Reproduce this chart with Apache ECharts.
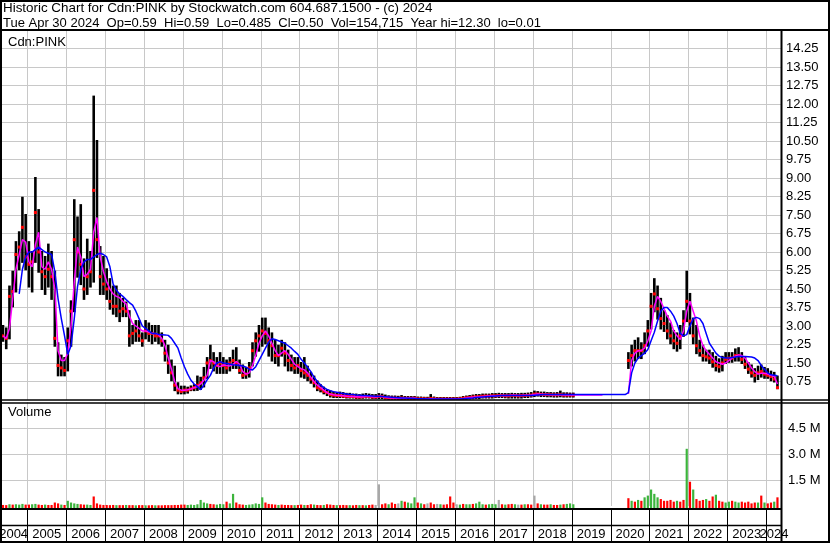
<!DOCTYPE html>
<html>
<head>
<meta charset="utf-8">
<script src="https://cdn.jsdelivr.net/npm/echarts@6/dist/echarts.min.js"></script>
<style>
html,body{margin:0;padding:0;background:#fff;}
#chart{width:830px;height:543px;}
</style>
</head>
<body>
<div id="chart"></div>
<script>
// Month index counted from Jan 2004 (0). First bar = May 2004 (index 4), one value per month.
const START_MONTH = 4;

const high = [
  3.0, 2.9, 4.6, 5.2, 6.4, 6.8, 8.2, 7.5,                          // 2004 May-Dec
  6.4, 6.0, 9.0, 7.7, 6.0, 5.8, 6.3, 6.0, 5.2, 2.3, 1.8, 1.7,       // 2005
  2.9, 4.0, 8.1, 7.4, 7.9, 5.7, 6.5, 6.0, 12.3, 10.5, 6.2, 5.8,     // 2006
  5.3, 4.9, 4.6, 4.6, 4.3, 4.1, 3.95, 3.6, 3.0, 3.2, 3.2, 2.7,      // 2007
  3.2, 3.1, 3.0, 3.0, 3.0, 2.7, 2.4, 2.2, 1.6, 1.35, 0.68, 0.54,    // 2008
  0.54, 0.5, 0.55, 0.6, 0.95, 0.9, 1.3, 1.7, 2.2, 1.9, 1.7, 1.9,    // 2009
  1.7, 1.6, 1.7, 2.0, 2.1, 1.6, 1.4, 1.3, 1.5, 2.3, 2.7, 3.0,       // 2010
  3.3, 3.3, 2.9, 2.7, 2.4, 2.2, 2.4, 2.3, 2.0, 1.8, 1.7, 1.7,       // 2011
  1.5, 1.7, 1.35, 1.1, 0.95, 0.75, 0.6, 0.5, 0.4, 0.35, 0.3, 0.28,  // 2012
  0.3, 0.28, 0.25, 0.25, 0.22, 0.22, 0.2, 0.22, 0.24, 0.22, 0.2, 0.2, // 2013
  0.24, 0.22, 0.18, 0.15, 0.14, 0.14, 0.13, 0.16, 0.12, 0.12, 0.12, 0.12, // 2014
  0.1, 0.1, 0.09, 0.09, 0.2, 0.1, 0.08, 0.08, 0.08, 0.08, 0.08, 0.08, // 2015
  0.08, 0.09, 0.12, 0.14, 0.16, 0.18, 0.2, 0.2, 0.22, 0.22, 0.22, 0.24, // 2016
  0.24, 0.25, 0.24, 0.24, 0.24, 0.25, 0.24, 0.24, 0.25, 0.25, 0.26, 0.28, // 2017
  0.34, 0.32, 0.3, 0.3, 0.28, 0.28, 0.27, 0.28, 0.34, 0.27, 0.27, 0.26, // 2018
  0.26, null, null, null, null, null, null, null, null, null, null, null, // 2019
  null, null, null, null, null, 1.9, 2.2, 2.4, 2.5, 2.3, 2.7, 3.2,  // 2020
  4.3, 4.9, 4.6, 4.1, 3.6, 3.4, 3.1, 2.8, 2.7, 3.0, 3.6, 5.2,       // 2021
  4.3, 3.3, 3.0, 2.4, 2.2, 2.0, 2.0, 1.9, 1.75, 1.65, 1.75, 1.9,    // 2022
  1.9, 1.9, 2.05, 2.1, 1.9, 1.7, 1.5, 1.4, 1.25, 1.35, 1.4, 1.3,    // 2023
  1.25, 1.15, 1.1, 0.95                                              // 2024 Jan-Apr
];

const low = [
  2.4, 2.1, 2.5, 3.8, 4.4, 5.3, 5.6, 5.3,
  4.6, 4.4, 5.6, 5.2, 4.5, 4.3, 4.6, 4.1, 2.2, 1.0, 1.0, 1.0,
  1.2, 2.2, 3.6, 5.0, 4.7, 4.1, 4.3, 4.6, 4.8, 5.8, 4.3, 4.3,
  4.1, 3.7, 3.5, 3.4, 3.2, 3.4, 3.4, 2.2, 2.3, 2.4, 2.4, 2.2,
  2.5, 2.4, 2.3, 2.4, 2.3, 2.2, 1.6, 1.1, 0.8, 0.4, 0.27, 0.27,
  0.27, 0.3, 0.4, 0.4, 0.41, 0.45, 0.55, 0.9, 1.3, 1.2, 1.1, 1.1,
  1.1, 1.1, 1.2, 1.3, 1.3, 1.1, 0.9, 0.9, 0.95, 1.4, 1.8, 2.0,
  2.2, 2.3, 1.8, 1.6, 1.5, 1.4, 1.8, 1.4, 1.2, 1.2, 1.1, 1.1,
  0.95, 0.9, 0.8, 0.7, 0.55, 0.4, 0.35, 0.27, 0.2, 0.14, 0.12, 0.12,
  0.12, 0.12, 0.1, 0.1, 0.1, 0.08, 0.08, 0.09, 0.1, 0.1, 0.08, 0.08,
  0.08, 0.08, 0.06, 0.05, 0.05, 0.05, 0.04, 0.04, 0.04, 0.04, 0.04, 0.04,
  0.03, 0.03, 0.02, 0.02, 0.03, 0.02, 0.02, 0.02, 0.02, 0.02, 0.02, 0.02,
  0.02, 0.03, 0.04, 0.05, 0.06, 0.07, 0.08, 0.08, 0.1, 0.1, 0.1, 0.1,
  0.12, 0.12, 0.12, 0.11, 0.1, 0.1, 0.1, 0.1, 0.1, 0.12, 0.12, 0.14,
  0.16, 0.18, 0.16, 0.16, 0.15, 0.15, 0.14, 0.14, 0.15, 0.14, 0.14, 0.14,
  0.14, null, null, null, null, null, null, null, null, null, null, null,
  null, null, null, null, null, 1.3, 1.4, 1.6, 1.7, 1.7, 1.9, 2.2,
  2.9, 3.6, 3.3, 2.9, 2.8, 2.5, 2.3, 2.1, 2.0, 2.1, 2.6, 3.2,
  2.7, 2.3, 1.9, 1.8, 1.6, 1.6, 1.5, 1.35, 1.2, 1.15, 1.2, 1.5,
  1.55, 1.55, 1.6, 1.6, 1.5, 1.3, 1.1, 0.95, 0.75, 0.85, 0.95, 0.9,
  0.9, 0.8, 0.75, 0.48
];

const close = [
  2.6, 2.5, 4.2, 4.4, 5.9, 6.2, 7.0, 5.8,
  5.5, 5.6, 7.6, 6.0, 5.2, 5.0, 5.3, 5.0, 2.5, 1.4, 1.3, 1.2,
  2.4, 3.6, 6.5, 6.0, 5.5, 4.5, 5.0, 5.2, 8.5, 6.5, 5.0, 4.7,
  4.5, 4.0, 3.8, 3.8, 3.6, 3.7, 3.6, 2.6, 2.7, 2.8, 2.6, 2.4,
  2.8, 2.7, 2.7, 2.6, 2.6, 2.4, 1.9, 1.5, 1.1, 0.6, 0.4, 0.35,
  0.4, 0.4, 0.45, 0.5, 0.6, 0.7, 0.9, 1.5, 1.6, 1.5, 1.4, 1.5,
  1.4, 1.3, 1.5, 1.6, 1.5, 1.2, 1.0, 1.05, 1.3, 2.0, 2.4, 2.6,
  2.8, 2.7, 2.4, 2.2, 1.8, 1.8, 2.1, 1.9, 1.6, 1.4, 1.3, 1.4,
  1.2, 1.1, 1.0, 0.85, 0.7, 0.5, 0.45, 0.35, 0.3, 0.22, 0.2, 0.18,
  0.18, 0.16, 0.15, 0.14, 0.14, 0.12, 0.12, 0.13, 0.15, 0.14, 0.12, 0.12,
  0.15, 0.14, 0.1, 0.09, 0.08, 0.08, 0.07, 0.08, 0.07, 0.07, 0.07, 0.07,
  0.05, 0.05, 0.05, 0.04, 0.06, 0.05, 0.04, 0.04, 0.04, 0.04, 0.04, 0.04,
  0.04, 0.05, 0.07, 0.09, 0.1, 0.12, 0.13, 0.14, 0.15, 0.16, 0.16, 0.17,
  0.17, 0.18, 0.18, 0.17, 0.17, 0.18, 0.18, 0.17, 0.18, 0.18, 0.19, 0.2,
  0.24, 0.24, 0.23, 0.22, 0.22, 0.22, 0.21, 0.21, 0.22, 0.2, 0.2, 0.2,
  0.2, null, null, null, null, null, null, null, null, null, null, null,
  null, null, null, null, null, 1.6, 1.8, 2.0, 2.0, 2.0, 2.2, 2.8,
  3.8, 4.3, 3.7, 3.3, 3.1, 2.8, 2.6, 2.4, 2.3, 2.6, 3.2, 4.0,
  3.2, 2.6, 2.2, 2.0, 1.8, 1.75, 1.7, 1.55, 1.4, 1.35, 1.5, 1.65,
  1.7, 1.7, 1.8, 1.8, 1.65, 1.45, 1.25, 1.1, 1.0, 1.1, 1.15, 1.05,
  1.0, 0.95, 0.85, 0.5
];

// short moving average (magenta)
const maFast = [
  2.6, 2.5, 2.9, 4.1, 5.3, 5.9, 6.5, 6.4,
  5.6, 5.4, 6.3, 6.8, 5.4, 5.3, 5.6, 5.3, 4.5, 2.0, 1.6, 1.6,
  1.9, 3.0, 4.8, 6.2, 5.8, 5.0, 5.1, 5.3, 6.8, 7.4, 5.8, 5.2,
  4.8, 4.5, 4.3, 4.2, 4.15, 4.0, 3.9, 3.4, 3.1, 3.0, 2.9, 2.8,
  2.8, 2.75, 2.7, 2.7, 2.65, 2.5, 2.2, 1.7, 1.25, 0.75, 0.45, 0.4,
  0.4, 0.42, 0.45, 0.5, 0.55, 0.65, 0.8, 1.0, 1.6, 1.55, 1.4, 1.35,
  1.42, 1.4, 1.38, 1.45, 1.56, 1.45, 1.15, 1.05, 1.1, 1.4, 1.8, 2.3,
  2.6, 2.8, 2.6, 2.3, 2.0, 1.8, 1.9, 2.0, 1.85, 1.65, 1.45, 1.35,
  1.27, 1.22, 1.1, 0.92, 0.75, 0.6, 0.5, 0.4, 0.3, 0.24, 0.21, 0.19,
  0.18, 0.17, 0.15, 0.14, 0.14, 0.13, 0.12, 0.13, 0.14, 0.14, 0.13, 0.12,
  0.14, 0.14, 0.11, 0.09, 0.08, 0.08, 0.07, 0.08, 0.07, 0.07, 0.07, 0.07,
  0.05, 0.05, 0.05, 0.04, 0.05, 0.05, 0.04, 0.04, 0.04, 0.04, 0.04, 0.04,
  0.04, 0.05, 0.06, 0.08, 0.1, 0.11, 0.12, 0.13, 0.14, 0.15, 0.16, 0.17,
  0.17, 0.18, 0.18, 0.18, 0.18, 0.19, 0.19, 0.18, 0.18, 0.19, 0.19, 0.2,
  0.22, 0.24, 0.23, 0.22, 0.22, 0.21, 0.21, 0.21, 0.21, 0.2, 0.2, 0.2,
  0.2, 0.2, 0.2, 0.2, 0.2, 0.2, 0.2, 0.2, 0.2, 0.2, null, null,
  null, null, null, null, null, 0.25, 1.6, 1.9, 2.0, 2.0, 2.1, 2.4,
  2.8, 3.8, 4.2, 4.0, 3.7, 3.4, 3.2, 2.8, 2.6, 2.45, 2.8, 3.6,
  4.0, 3.6, 3.2, 2.6, 2.2, 2.0, 1.85, 1.7, 1.55, 1.5, 1.45, 1.5,
  1.6, 1.7, 1.78, 1.83, 1.8, 1.7, 1.5, 1.3, 1.15, 1.05, 1.08, 1.08,
  1.05, 1.0, 0.95, 0.65
];

// long moving average (blue)
const maSlow = [
  null, null, null, null, null, 4.3, 5.3, 5.8,
  6.0, 6.0, 6.1, 6.2, 6.1, 6.0, 5.95, 5.9, 5.2, 4.1, 3.3, 2.6,
  1.85, 2.2, 3.3, 4.6, 5.3, 5.6, 5.7, 5.7, 5.8, 5.9, 5.95, 5.9,
  5.8, 5.4, 4.7, 4.45, 4.3, 4.2, 4.07, 3.95, 3.85, 3.6, 3.3, 3.0,
  2.9, 2.8, 2.7, 2.7, 2.66, 2.65, 2.64, 2.62, 2.5, 2.3, 2.1, 1.7,
  1.35, 1.05, 0.8, 0.65, 0.54, 0.42, 0.6, 0.82, 1.0, 1.3, 1.5, 1.55,
  1.5, 1.48, 1.46, 1.43, 1.42, 1.4, 1.38, 1.33, 1.25, 1.22, 1.35, 1.6,
  1.85, 2.1, 2.35, 2.48, 2.45, 2.4, 2.35, 2.3, 2.2, 2.1, 1.97, 1.85,
  1.65, 1.5, 1.33, 1.15, 0.92, 0.75, 0.62, 0.5, 0.43, 0.38, 0.34, 0.31,
  0.28, 0.26, 0.24, 0.22, 0.22, 0.2, 0.19, 0.18, 0.18, 0.17, 0.16, 0.15,
  0.15, 0.14, 0.13, 0.12, 0.11, 0.1, 0.09, 0.08, 0.08, 0.07, 0.07, 0.06,
  0.05, 0.05, 0.05, 0.04, 0.04, 0.04, 0.04, 0.04, 0.04, 0.04, 0.04, 0.04,
  0.04, 0.04, 0.05, 0.06, 0.07, 0.08, 0.1, 0.11, 0.12, 0.13, 0.14, 0.15,
  0.16, 0.17, 0.18, 0.18, 0.18, 0.18, 0.18, 0.18, 0.18, 0.18, 0.18, 0.18,
  0.19, 0.2, 0.21, 0.22, 0.22, 0.22, 0.22, 0.22, 0.22, 0.22, 0.22, 0.22,
  0.22, 0.22, 0.22, 0.22, 0.22, 0.22, 0.22, 0.22, 0.22, 0.22, 0.22, 0.22,
  0.22, 0.22, 0.22, 0.22, 0.22, 0.3, 1.1, 1.5, 1.7, 1.8, 1.9, 2.05,
  2.4, 2.75, 3.2, 3.6, 3.75, 3.75, 3.6, 3.4, 3.1, 2.7, 2.6, 2.65,
  3.0, 3.3, 3.35, 3.3, 3.1, 2.7, 2.3, 2.1, 1.9, 1.78, 1.72, 1.7,
  1.7, 1.72, 1.74, 1.76, 1.76, 1.76, 1.75, 1.74, 1.7, 1.6, 1.4, 1.25,
  1.1, 1.02, 1.0, 0.98
];

// volume, millions (largest visible daily bar in each month)
const volume = [
  0.06, 0.05, 0.1, 0.08, 0.1, 0.08, 0.12, 0.08,
  0.08, 0.1, 0.12, 0.08, 0.06, 0.08, 0.06, 0.06, 0.2, 0.15, 0.08, 0.06,
  0.3, 0.2, 0.15, 0.12, 0.1, 0.08, 0.08, 0.06, 0.55, 0.15, 0.08, 0.06,
  0.06, 0.05, 0.06, 0.05, 0.05, 0.05, 0.06, 0.05, 0.05, 0.04, 0.05, 0.05,
  0.04, 0.04, 0.05, 0.04, 0.04, 0.04, 0.05, 0.05, 0.05, 0.06, 0.06, 0.08,
  0.08, 0.06, 0.08, 0.06, 0.1, 0.35, 0.2, 0.15, 0.12, 0.1, 0.08, 0.12,
  0.1, 0.25, 0.15, 0.7, 0.2, 0.1, 0.08, 0.06, 0.08, 0.1, 0.15, 0.12,
  0.5, 0.2, 0.12, 0.1, 0.08, 0.06, 0.08, 0.06, 0.06, 0.05, 0.05, 0.06,
  0.08, 0.06, 0.06, 0.1, 0.08, 0.06, 0.05, 0.06, 0.1, 0.08, 0.06, 0.05,
  0.05, 0.06, 0.05, 0.05, 0.04, 0.06, 0.05, 0.05, 0.04, 0.06, 0.08, 0.06,
  1.25, 0.1, 0.15, 0.1, 0.2, 0.12, 0.15, 0.3, 0.25, 0.2, 0.15, 0.5,
  0.2, 0.15, 0.1, 0.15, 0.2, 0.1, 0.12, 0.1, 0.08, 0.1, 0.55, 0.2,
  0.1, 0.08, 0.12, 0.1, 0.1, 0.12, 0.15, 0.25, 0.1, 0.08, 0.1, 0.12,
  0.1, 0.35, 0.1, 0.08, 0.1, 0.12, 0.1, 0.08, 0.08, 0.1, 0.1, 0.08,
  0.6, 0.15, 0.1, 0.08, 0.08, 0.1, 0.06, 0.06, 0.08, 0.1, 0.12, 0.15,
  0.1, null, null, null, null, null, null, null, null, null, null, null,
  null, null, null, null, null, 0.45, 0.3, 0.25, 0.35, 0.3, 0.5, 0.6,
  0.95, 0.7, 0.5, 0.4, 0.3, 0.3, 0.35, 0.25, 0.3, 0.25, 0.35, 3.3,
  1.4, 0.95, 0.4, 0.3, 0.35, 0.4, 0.3, 0.55, 0.65, 0.3, 0.25, 0.2,
  0.25, 0.3, 0.25, 0.2, 0.25, 0.2, 0.25, 0.15, 0.2, 0.2, 0.6, 0.2,
  0.15, 0.2, 0.25, 0.5
];

// volume bar colour per month: g = up, r = down, n = unchanged, - = none
const volDir = [
  "rrgrgggr",
  "rggrrgrrrrgr", "ggggrrggrrrr", "rrrgrrgrrgrr", "grrgrrrrrrrr",
  "rgggggggrrgg", "grggrrrggggg", "grrrrgrrrrgr", "rgrrgrrgrrrg",
  "rrrgrrgrgrrn", "nrrgrrngrggg", "rgrnrrngrrrr", "ngrggrgggrgg",
  "gnrgrrgnrgrr", "nrgrrgrrgrgg", "g-----------", "-----rgrgrgg",
  "gggrrrrrgrrg", "rgrrrgrrgrrg", "grggrrrrrgrg", "rrgr"
].join("");

const years = [2004, 2005, 2006, 2007, 2008, 2009, 2010, 2011, 2012, 2013, 2014,
  2015, 2016, 2017, 2018, 2019, 2020, 2021, 2022, 2023, 2024];

const titleLine1 = "Historic Chart for Cdn:PINK by Stockwatch.com 604.687.1500 - (c) 2024";
const titleLine2 = "Tue Apr 30 2024  Op=0.59  Hi=0.59  Lo=0.485  Cl=0.50  Vol=154,715  Year hi=12.30  lo=0.01";
const priceLabel = "Cdn:PINK";
const volumeLabel = "Volume";

// ---------- build ----------
const FF = '"Liberation Sans", Arial, sans-serif';
const FONT = '13px ' + FF;
const mt = i => START_MONTH + i + 0.5;

const priceData = [];
high.forEach((h, i) => { if (h != null) priceData.push([mt(i), h, low[i], close[i]]); });
const fastData = maFast.map((v, i) => [mt(i), v == null ? '-' : v]);
const slowData = maSlow.map((v, i) => [mt(i), v == null ? '-' : v]);
const volData = [];
volume.forEach((v, i) => { if (v != null) volData.push([mt(i), v, volDir[i]]); });
const VOLCOL = { g: '#3cb43c', r: '#ff0000', n: '#a8a8a8' };
const yearStarts = years.slice(1).map(y => [(y - 2004) * 12, 0.5]);

const XMIN = 3.58;   // left edge of the plot (early May 2004)
const XMAX = 244.9;  // right edge of the plot (mid May 2024)
const GRAY = '#c8c8c8';

function xAxisFor(gi) {
  return {
    type: 'value', gridIndex: gi, min: XMIN, max: XMAX,
    axisLine: { show: false }, axisTick: { show: false }, axisLabel: { show: false },
    splitLine: { show: false }
  };
}
function yearGridSeries(gi, color) {
  return {
    type: 'custom', xAxisIndex: gi, yAxisIndex: gi, z: 1, silent: true,
    data: yearStarts, encode: { x: 0, y: 1 },
    renderItem: function (params, api) {
      const cs = params.coordSys;
      const x = Math.round(api.coord([api.value(0), 0])[0]) + 0.5;
      return { type: 'line', shape: { x1: x, y1: cs.y, x2: x, y2: cs.y + cs.height },
        style: { stroke: color, lineWidth: 1 } };
    }
  };
}

const chart = echarts.init(document.getElementById('chart'), null, { renderer: 'canvas' });

const L = (x1, y1, x2, y2, w) => ({ type: 'line', z: 100, silent: true,
  shape: { x1, y1, x2, y2 }, style: { stroke: '#000', lineWidth: w } });
const T = (x, y, text, font) => ({ type: 'text', z: 100, silent: true, x, y,
  style: { text, font: font || FONT, fill: '#000', verticalAlign: 'middle', align: 'left' } });

chart.setOption({
  animation: false,
  backgroundColor: '#fff',
  grid: [
    { left: 0, top: 31, width: 782, height: 369 },
    { left: 0, top: 402, width: 782, height: 104 },
    { left: 0, top: 509, width: 782, height: 34 }
  ],
  xAxis: [xAxisFor(0), xAxisFor(1), xAxisFor(2)],
  yAxis: [
    { type: 'value', gridIndex: 0, position: 'right', min: 0, max: 14.96, interval: 0.75,
      axisLine: { show: false }, axisTick: { show: false },
      axisLabel: { show: true, showMinLabel: false, showMaxLabel: false, margin: 4,
        color: '#000', fontSize: 13, fontFamily: FF,
        formatter: v => v.toFixed(2) },
      splitLine: { show: true, showMinLine: false, showMaxLine: false, lineStyle: { color: GRAY, width: 1 } } },
    { type: 'value', gridIndex: 1, position: 'right', min: 0, max: 6, interval: 1.5,
      axisLine: { show: false }, axisTick: { show: false },
      axisLabel: { show: true, showMinLabel: false, showMaxLabel: false, margin: 6,
        color: '#000', fontSize: 13, fontFamily: FF,
        formatter: v => v.toFixed(1) + ' M' },
      splitLine: { show: true, showMinLine: false, showMaxLine: false, lineStyle: { color: GRAY, width: 1 } } },
    { type: 'value', gridIndex: 2, min: 0, max: 1, show: false }
  ],
  series: [
    yearGridSeries(0, GRAY),
    yearGridSeries(1, GRAY),
    yearGridSeries(2, '#000'),
    {
      name: 'price', type: 'custom', xAxisIndex: 0, yAxisIndex: 0, z: 2, clip: true,
      data: priceData, encode: { x: 0, y: [1, 2, 3] },
      renderItem: function (params, api) {
        const x = api.value(0);
        const pH = api.coord([x, api.value(1)]);
        const pL = api.coord([x, api.value(2)]);
        const pC = api.coord([x, api.value(3)]);
        return { type: 'group', children: [
          { type: 'line', shape: { x1: pH[0], y1: pH[1] - 1, x2: pL[0], y2: pL[1] + 1 },
            style: { stroke: '#000', lineWidth: 2.6 } },
          { type: 'rect', shape: { x: pC[0] - 1.5, y: pC[1] - 1.5, width: 3, height: 3 },
            style: { fill: '#ff0000' } }
        ] };
      }
    },
    { name: 'maFast', type: 'line', xAxisIndex: 0, yAxisIndex: 0, z: 3, data: fastData,
      showSymbol: false, symbol: 'none', connectNulls: false,
      lineStyle: { color: '#ff00ff', width: 1.5 }, itemStyle: { color: '#ff00ff' } },
    { name: 'maSlow', type: 'line', xAxisIndex: 0, yAxisIndex: 0, z: 4, data: slowData,
      showSymbol: false, symbol: 'none', connectNulls: false,
      lineStyle: { color: '#0000ff', width: 1.5 }, itemStyle: { color: '#0000ff' } },
    {
      name: 'volume', type: 'custom', xAxisIndex: 1, yAxisIndex: 1, z: 2,
      data: volData, encode: { x: 0, y: 1 },
      renderItem: function (params, api) {
        const x = api.value(0);
        const top = api.coord([x, api.value(1)]);
        const base = api.coord([x, 0]);
        const dir = volDir[Math.round(x - 0.5) - START_MONTH];
        return { type: 'rect',
          shape: { x: top[0] - 1.1, y: top[1], width: 2.2, height: base[1] + 2.5 - top[1] },
          style: { fill: VOLCOL[dir] || '#a8a8a8' } };
      }
    },
    {
      name: 'years', type: 'custom', xAxisIndex: 2, yAxisIndex: 2, z: 5,
      data: years.map(y => [(y - 2004) * 12, 0.5, y]), encode: { x: 0, y: 1 },
      renderItem: function (params, api) {
        const m0 = api.value(0);
        const cs = params.coordSys;
        const a = api.coord([m0, 0.5])[0];
        const b = api.coord([m0 + 12, 0.5])[0];
        const lft = Math.max(a, cs.x), rgt = Math.min(b, cs.x + cs.width);
        return { type: 'text', x: (lft + rgt) / 2, y: cs.y + 25.5,
          style: { text: String(api.value(2)), font: FONT, fill: '#000',
            align: 'center', verticalAlign: 'middle' } };
      }
    }
  ],
  graphic: [
    { type: 'rect', z: 100, silent: true, shape: { x: 1, y: 1, width: 828, height: 541 },
      style: { fill: 'none', stroke: '#000', lineWidth: 2 } },
    L(0, 30, 830, 30, 2),
    L(781.5, 30, 781.5, 543, 2),
    L(0, 400, 830, 400, 1.5),
    L(0, 403, 830, 403, 1.5),
    L(0, 509, 782, 509, 2),
    L(0, 525.5, 782, 525.5, 1.5),
    T(3, 8.5, titleLine1, '13.4px ' + FF),
    T(3, 23.5, titleLine2),
    T(8, 42, priceLabel),
    T(8, 412, volumeLabel)
  ]
});
</script>
</body>
</html>
